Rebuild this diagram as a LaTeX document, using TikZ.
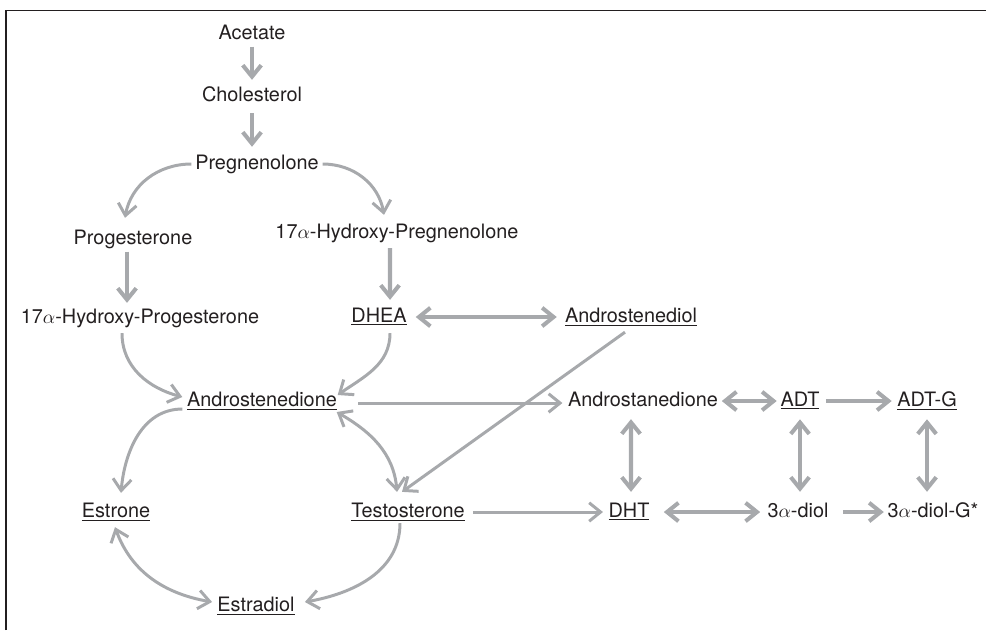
\documentclass[tikz,border=0pt]{standalone}
\usepackage{fontspec}
\setmainfont{TeX Gyre Heros}
\usetikzlibrary{arrows.meta}

\definecolor{arrowgray}{RGB}{167,169,172}
\definecolor{textblack}{RGB}{35,31,32}

\tikzset{
  compound/.style={font=\fontsize{11.3}{13}\selectfont, text=textblack,
    inner sep=2pt, text height=8pt, text depth=2pt},
  conv/.style={draw=arrowgray, line width=1.7pt},
  bigconv/.style={draw=arrowgray, line width=2.3pt}
}

\begin{document}
\begin{tikzpicture}[>={Straight Barb[length=6.5pt,width=10.5pt]}]
  \useasboundingbox (0,0) rectangle (19.72,-12.6);
  % frame
  \draw [line width=0.9pt, textblack] (0.12,-12.6) -- (0.12,-0.21) -- (19.72,-0.21);

  % -- precursors
  \node [compound] (acetate)         at (5.04,-0.68)  {Acetate};
  \node [compound] (cholesterol)     at (5.04,-1.92)  {Cholesterol};
  \node [compound] (pregnenolone)    at (5.14,-3.28)  {Pregnenolone};
  \node [compound] (progesterone)    at (2.66,-4.78)  {Progesterone};
  \node [compound] (hydroxypreg)     at (7.94,-4.66)  {17$\alpha$-Hydroxy-Pregnenolone};
  \node [compound] (hydroxyprog)     at (2.80,-6.36)  {17$\alpha$-Hydroxy-Progesterone};
  \node [compound] (dhea)            at (7.58,-6.34)  {\underline{DHEA}};
  \node [compound] (androstenediol)  at (12.62,-6.34) {\underline{Androstenediol}};

  % -- androgens
  \node [compound] (androstenedione) at (5.24,-8.02)  {\underline{Androstenedione}};
  \node [compound] (androstanedione) at (12.86,-8.02) {Androstanedione};
  \node [compound] (adt)             at (16.00,-8.02) {\underline{ADT}};
  \node [compound] (adtg)            at (18.54,-8.02) {\underline{ADT-G}};
  \node [compound] (testosterone)    at (8.16,-10.24) {\underline{Testosterone}};
  \node [compound] (dht)             at (12.58,-10.24) {\underline{DHT}};
  \node [compound] (diol)            at (15.96,-10.24) {3$\alpha$-diol};
  \node [compound] (diolg)           at (18.66,-10.24) {3$\alpha$-diol-G*};

  % -- estrogens
  \node [compound] (estrone)         at (2.32,-10.24) {\underline{Estrone}};
  \node [compound] (estradiol)       at (5.12,-12.12) {\underline{Estradiol}};

  % top of the pathway
  \draw [bigconv,->,shorten >=2pt] (acetate) -- (cholesterol);
  \draw [bigconv,->,shorten <=2.6pt,shorten >=2.6pt]
    (cholesterol.south) -- (cholesterol.south |- pregnenolone.north);
  \draw [conv,->] (pregnenolone.west) to[out=180,in=80]
    ([shift={(-0.16,0.17)}]progesterone.north);
  \draw [conv,->] (pregnenolone.east) to[out=0,in=100]
    ([shift={(-0.26,0.11)}]hydroxypreg.north);
  \draw [bigconv,->] ([xshift=-0.12cm]progesterone.south) --
    ([shift={(-0.26,0.05)}]hydroxyprog.north);
  \draw [bigconv,->] ([shift={(-0.14,-0.05)}]hydroxypreg.south) --
    ([shift={(0.22,0.09)}]dhea.north);
  \draw [bigconv,<->,shorten <=3pt,shorten >=2.5pt] (dhea) -- (androstenediol);

  % into androstenedione
  \draw [conv,->] ([shift={(-0.36,-0.05)}]hydroxyprog.south) to[out=-90,in=165]
    ([shift={(-0.02,0.08)}]androstenedione.west);
  \draw [conv,->] ([shift={(0.22,-0.07)}]dhea.south) to[out=-90,in=35]
    ([shift={(-0.06,0.12)}]androstenedione.east);
  \draw [conv,->,shorten <=10pt,shorten >=1pt]
    ([yshift=-0.04cm]androstenedione.east) -- ([yshift=-0.04cm]androstanedione.west);
  \draw [conv,->] ([shift={(-0.12,-0.05)}]androstenediol.south) --
    ([shift={(-0.12,0.15)}]testosterone.north);
  \draw [conv,<->] ([shift={(-0.08,-0.22)}]androstenedione.east) to[out=-30,in=95]
    ([shift={(-0.22,0.15)}]testosterone.north);

  % estrogens
  \draw [conv,->] ([shift={(-0.02,-0.16)}]androstenedione.west) to[out=180,in=85]
    ([shift={(0.10,0.13)}]estrone.north);
  \draw [conv,->] ([shift={(-0.16,0.03)}]testosterone.south) to[out=-90,in=10]
    ([shift={(0.13,0.08)}]estradiol.east);
  \draw [conv,<->] ([shift={(-0.02,-0.05)}]estrone.south) to[out=-70,in=170]
    ([shift={(-0.03,0.08)}]estradiol.west);

  % 5alpha-reduced side
  \draw [conv,->,shorten <=2.5pt,shorten >=1pt] (testosterone) -- (dht);
  \draw [bigconv,<->] ([shift={(-0.24,-0.11)}]androstanedione.south) --
    ([shift={(0.04,0.15)}]dht.north);
  \draw [bigconv,<->] (androstanedione) -- (adt);
  \draw [bigconv,->,shorten <=1.5pt,shorten >=1pt] (adt) -- (adtg);
  \draw [bigconv,<->,shorten <=3.2pt,shorten >=4.3pt]
    (adt.south) -- (adt.south |- diol.north);
  \draw [bigconv,<->,shorten <=3.2pt,shorten >=4.3pt]
    (adtg.south) -- (adtg.south |- diolg.north);
  \draw [bigconv,<->,shorten <=6pt,shorten >=2pt] (dht) -- (diol);
  \draw [bigconv,->,shorten <=6pt] (diol) -- (diolg);
\end{tikzpicture}
\end{document}
